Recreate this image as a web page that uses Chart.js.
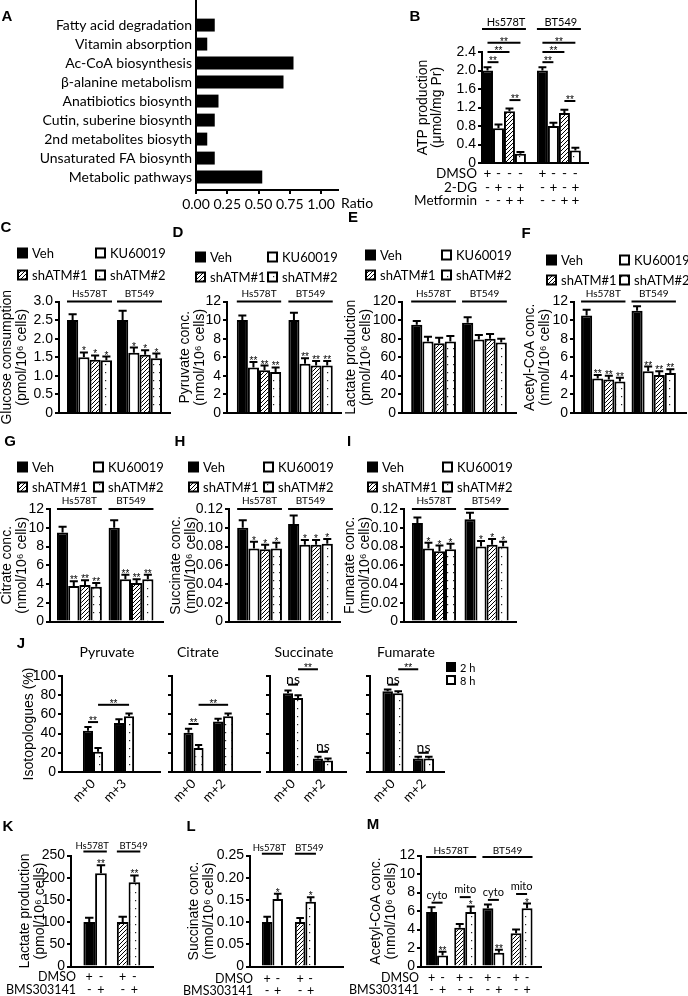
<!DOCTYPE html>
<html>
<head>
<meta charset="utf-8">
<title>ATM and metabolite panels</title>
<script src="https://cdn.jsdelivr.net/npm/chart.js@4.4.1/dist/chart.umd.min.js"></script>
<style>
  html, body { margin: 0; padding: 0; background: #fff; }
  #fig { position: relative; width: 688px; height: 996px; overflow: hidden; }
  #fig canvas { position: absolute; left: 0; top: 0; }
  .note { position: absolute; white-space: nowrap; color: #000; }
</style>
</head>
<body>
<div id="fig"></div>
<script>
// ---- data ----
const pathways = ['Fatty acid degradation', 'Vitamin absorption', 'Ac-CoA biosynthesis', 'β-alanine metabolism',
  'Anatibiotics biosynth', 'Cutin, suberine biosynth', '2nd metabolites biosyth', 'Unsaturated FA biosynth', 'Metabolic pathways'];
const pathwayRatio = [0.15, 0.09, 0.78, 0.70, 0.18, 0.15, 0.09, 0.15, 0.53];
const ratioTicks = [0, 0.25, 0.5, 0.75, 1.0];

const cells = ['Hs578T', 'BT549'];

// panel B: rows = treatment, cols = cell line
const atpTreat = ['DMSO', '2-DG', 'Metformin', '2-DG + Metformin'];
const atpMean = [[2.0, 2.0], [0.75, 0.80], [1.12, 1.08], [0.20, 0.27]];
const atpErr = [[0.07, 0.07], [0.08, 0.07], [0.06, 0.07], [0.04, 0.06]];
const atpDmso = ['+', '-', '-', '-'];
const atp2dg = ['-', '+', '-', '+'];
const atpMet = ['-', '-', '+', '+'];

// panels C-I: rows = ATM group, cols = cell line
const atmGroups = ['Veh', 'KU60019', 'shATM#1', 'shATM#2'];
const glucose = [[2.5, 2.5], [1.5, 1.62], [1.43, 1.57], [1.42, 1.47]];
const glucoseErr = [[0.16, 0.25], [0.13, 0.14], [0.12, 0.12], [0.10, 0.13]];
const pyruvate = [[10, 10], [4.9, 5.3], [4.6, 5.1], [4.4, 5.1]];
const pyruvateErr = [[0.5, 0.8], [0.6, 0.6], [0.5, 0.5], [0.5, 0.5]];
const lactate = [[95, 97], [77, 79], [75, 80], [77, 76]];
const lactateErr = [[4, 6], [5, 5], [6, 5], [6, 4]];
const acetylCoA = [[10.5, 11], [3.7, 4.5], [3.6, 4.1], [3.4, 4.3]];
const acetylCoAErr = [[0.6, 0.5], [0.4, 0.5], [0.4, 0.4], [0.4, 0.4]];
const citrate = [[9.5, 10], [3.8, 4.5], [3.9, 4.1], [3.7, 4.5]];
const citrateErr = [[0.6, 0.8], [0.5, 0.5], [0.5, 0.4], [0.4, 0.5]];
const succinate = [[0.100, 0.104], [0.078, 0.082], [0.077, 0.082], [0.078, 0.083]];
const succinateErr = [[0.008, 0.009], [0.007, 0.005], [0.005, 0.005], [0.006, 0.005]];
const fumarate = [[0.105, 0.109], [0.078, 0.080], [0.075, 0.082], [0.077, 0.080]];
const fumarateErr = [[0.006, 0.007], [0.006, 0.006], [0.006, 0.006], [0.006, 0.005]];

// panel J: rows = labelling time, cols = isotopologue
const isoMetabolites = ['Pyruvate', 'Citrate', 'Succinate', 'Fumarate'];
const isoTimes = ['2 h', '8 h'];
const isoPyr = ['m+0', 'm+3'];
const isoOther = ['m+0', 'm+2'];
const pyrIso = [[43, 51], [21, 58]];
const pyrIsoErr = [[4, 4], [4, 3]];
const citIso = [[41, 52.5], [25, 58]];
const citIsoErr = [[4, 3], [3, 3]];
const sucIso = [[82, 14], [77, 12]];
const sucIsoErr = [[3, 2], [3, 2]];
const fumIso = [[84, 14], [82, 14]];
const fumIsoErr = [[2, 2], [2, 2]];

// panels K-M: rows = treatment
const bmsTreat = ['DMSO', 'BMS303141'];
const bmsDmso = ['+', '-'];
const bmsDrug = ['-', '+'];
const bmsLactate = [[100, 100], [210, 190]];
const bmsLactateErr = [[10, 12], [18, 15]];
const bmsSuccinate = [[0.100, 0.100], [0.152, 0.146]];
const bmsSuccinateErr = [[0.012, 0.009], [0.012, 0.010]];
const fractions = ['Hs578T cyto', 'Hs578T mito', 'BT549 cyto', 'BT549 mito'];
const fractionNames = ['cyto', 'mito'];
const bmsAcetyl = [[5.9, 4.2, 6.3, 3.6], [1.2, 5.9, 1.5, 6.3]];
const bmsAcetylErr = [[0.5, 0.4, 0.4, 0.4], [0.4, 0.6, 0.3, 0.5]];

// ---- setup ----
const W = 688, H = 996;
const fig = document.getElementById('fig');
const sans = '"Liberation Sans", Arial, sans-serif';
const lato = 'Lato, "Open Sans", sans-serif';
Chart.defaults.color = '#000';
Chart.defaults.font.family = sans;
const tickFont = { family: sans, size: 14 };
const labelFont = { family: lato, size: 14 };

function makePattern(kind) {
  const c = document.createElement('canvas');
  const g = c.getContext('2d');
  if (kind === 'hatch') {
    c.width = c.height = 4;
    g.fillStyle = '#fff';
    g.fillRect(0, 0, 4, 4);
    g.strokeStyle = '#000';
    g.lineWidth = 1;
    g.beginPath();
    g.moveTo(0, 4); g.lineTo(4, 0);
    g.moveTo(-1, 1); g.lineTo(1, -1);
    g.moveTo(3, 5); g.lineTo(5, 3);
    g.stroke();
  } else {
    c.width = 6; c.height = 8;
    g.fillStyle = '#fff';
    g.fillRect(0, 0, 6, 8);
    g.fillStyle = '#222';
    g.fillRect(3, 4, 1.2, 1.2);
  }
  return g.createPattern(c, 'repeat');
}
const black = '#000', white = '#fff';
const hatch = makePattern('hatch');
const dots = makePattern('dots');
const fourFills = [black, white, hatch, dots];

// errors, stars, brackets, +/- rows and legends
const LINE_STYLE = {
  sig: { font: '10px ' + sans, dy: 2 },
  ns: { font: '14px ' + lato, dy: -1 },
  group: { font: '10px ' + lato, dy: -5 },
  sub: { font: '11px ' + lato, dy: -4 }
};
const extras = {
  id: 'extras',
  afterDraw(chart, args, opts) {
    const ctx = chart.ctx;
    const area = chart.chartArea;
    const vs = chart.scales.y;
    const bar = (d, i) => chart.getDatasetMeta(d).data[i];
    ctx.save();
    ctx.fillStyle = '#000';
    ctx.strokeStyle = '#000';
    ctx.lineWidth = 2;

    chart.data.datasets.forEach((ds, d) => {
      if (!ds.errors) return;
      chart.getDatasetMeta(d).data.forEach((el, i) => {
        const top = vs.getPixelForValue(ds.data[i].y + ds.errors[i]);
        const cap = el.width * 0.36;
        ctx.beginPath();
        ctx.moveTo(el.x, el.y); ctx.lineTo(el.x, top);
        ctx.moveTo(el.x - cap, top); ctx.lineTo(el.x + cap, top);
        ctx.stroke();
        const s = ds.stars && ds.stars[i];
        if (s) {
          ctx.font = LINE_STYLE.sig.font;
          ctx.textAlign = 'center';
          ctx.textBaseline = 'alphabetic';
          ctx.fillText(s, el.x, top + 2);
        }
      });
    });

    (opts.lines || []).forEach(l => {
      const kind = l.kind || 'sig';
      const st = LINE_STYLE[kind];
      const p = bar(l.from[0], l.from[1]), q = bar(l.to[0], l.to[1]);
      const edge = kind === 'group';
      const x1 = edge ? p.x - p.width / 2 : p.x;
      const x2 = edge ? q.x + q.width / 2 : q.x;
      const y = vs.getPixelForValue(l.v);
      ctx.lineWidth = 2;
      ctx.beginPath(); ctx.moveTo(x1, y); ctx.lineTo(x2, y); ctx.stroke();
      if (l.text) {
        ctx.font = l.font || st.font;
        ctx.textAlign = 'center';
        ctx.textBaseline = 'alphabetic';
        ctx.fillText(l.text, (x1 + x2) / 2 + (l.tx || 0), y + (l.dy !== undefined ? l.dy : st.dy));
      }
    });

    if (opts.rows) {
      ctx.font = opts.rows.font;
      ctx.textBaseline = 'middle';
      opts.rows.items.forEach(r => {
        const y = area.bottom + r.dy;
        ctx.textAlign = 'right';
        ctx.fillText(r.text, area.left + opts.rows.dx, y);
        ctx.textAlign = 'center';
        r.signs.forEach((s, d) => chart.getDatasetMeta(d).data.forEach(el => ctx.fillText(s, el.x, y)));
      });
    }

    if (opts.legend) {
      const L = opts.legend;
      ctx.font = L.font;
      ctx.textAlign = 'left';
      ctx.textBaseline = 'middle';
      chart.data.datasets.forEach((ds, d) => {
        const cx = L.x + (d % L.cols) * L.col;
        const cy = L.y + Math.floor(d / L.cols) * L.row;
        const s = L.box;
        ctx.fillStyle = '#000';
        ctx.fillRect(cx, cy - s / 2, s, s);
        ctx.fillStyle = ds.backgroundColor;
        ctx.fillRect(cx + 2, cy - s / 2 + 2, s - 4, s - 4);
        ctx.fillStyle = '#000';
        ctx.fillText(ds.label, cx + s + 4, cy + 1);
      });
    }
    ctx.restore();
  }
};

function newCanvas() {
  const c = document.createElement('canvas');
  c.width = W;
  c.height = H;
  fig.appendChild(c);
  return c;
}

function barSet(label, values, errors, fill, stars) {
  return {
    label,
    data: values.map((v, i) => ({ x: i, y: v })),
    errors, stars,
    backgroundColor: fill, borderColor: '#000', borderWidth: 2
  };
}

// every panel canvas covers the whole figure, padding puts the plot area in place
function panel(o) {
  const a = o.area, xH = o.xH || 20;
  const lh = o.titleLH || 15;
  o.datasets.forEach(ds => { ds.categoryPercentage = o.frac; ds.barPercentage = 1; });
  return new Chart(newCanvas(), {
    type: 'bar',
    data: { datasets: o.datasets },
    options: {
      responsive: false, animation: false, events: [],
      layout: { padding: { left: 0, top: a.t, right: W - a.r, bottom: H - a.b - xH } },
      plugins: { legend: { display: false }, tooltip: { enabled: false }, extras: o.extras || {} },
      scales: {
        x: {
          type: 'linear', min: o.xMin, max: o.xMax, offset: false,
          afterBuildTicks: s => { s.ticks = o.cats.map((c, i) => ({ value: i })); },
          afterFit: s => { s.height = xH; },
          grid: { drawOnChartArea: false, drawTicks: false },
          border: { color: '#000', width: 2, z: 1 },
          ticks: {
            display: !!o.xLabels, autoSkip: false, minRotation: 45, maxRotation: 45, padding: 4,
            font: { family: lato, size: 13 }, callback: v => o.cats[v]
          }
        },
        y: {
          min: 0, max: o.yMax,
          afterFit: s => { s.width = a.l; },
          ticks: {
            stepSize: o.yStep, autoSkip: false, padding: 2, font: tickFont,
            callback: v => o.yLabels === false ? '' : (v === 0 ? '0' : v.toFixed(o.yDec))
          },
          grid: { drawOnChartArea: false, tickLength: 4, color: '#000', lineWidth: 2 },
          border: { color: '#000', width: 2, z: 1 },
          title: {
            display: !!o.yTitle, text: o.yTitle, color: '#000',
            font: { family: sans, size: 14, lineHeight: lh + 'px' },
            padding: { top: (o.titleX || 0) - lh / 2, bottom: 0 }
          }
        }
      }
    },
    plugins: [extras]
  });
}

function atmPanel(o) {
  return panel(Object.assign({
    cats: cells, yDec: 0,
    datasets: atmGroups.map((g, k) =>
      barSet(g, o.mean[k], o.err[k], fourFills[k], k && o.star ? cells.map(() => o.star) : null)),
    extras: {
      legend: { x: o.leg[0], y: o.leg[1], col: o.leg[2], row: o.leg[3], cols: 2, box: 11, font: '13px ' + lato },
      lines: cells.map((c, i) => ({ kind: 'group', text: c, from: [0, i], to: [3, i], v: o.yMax }))
    }
  }, o));
}

// ---- A ----
new Chart(newCanvas(), {
  type: 'bar',
  data: {
    datasets: [{
      label: 'Ratio', data: pathwayRatio.map((v, i) => ({ x: v, y: i })),
      backgroundColor: '#000', borderWidth: 0, barPercentage: 0.68, categoryPercentage: 1
    }]
  },
  options: {
    indexAxis: 'y', responsive: false, animation: false, events: [],
    layout: { padding: { left: 0, top: 0, right: W - 338, bottom: H - 190 - 24 } },
    plugins: { legend: { display: false }, tooltip: { enabled: false } },
    scales: {
      y: {
        type: 'linear', min: -1.32, max: 8.68, reverse: true, offset: false,
        afterBuildTicks: s => { s.ticks = pathways.map((p, i) => ({ value: i })); },
        afterFit: s => { s.width = 196; s.paddingTop = 0; s.paddingBottom = 0; },
        ticks: { autoSkip: false, padding: 4, font: labelFont, callback: v => pathways[v] },
        grid: { drawOnChartArea: false, drawTicks: false },
        border: { color: '#000', width: 2, z: 1 }
      },
      x: {
        type: 'linear', min: 0, max: 1.136,
        afterBuildTicks: s => { s.ticks = ratioTicks.map(v => ({ value: v })); },
        afterFit: s => { s.height = 24; },
        ticks: { autoSkip: false, maxRotation: 0, padding: 2, font: labelFont, callback: v => v.toFixed(2) },
        grid: { drawOnChartArea: false, tickLength: 4, color: '#000', lineWidth: 2 },
        border: { color: '#000', width: 2, z: 1 }
      }
    }
  }
});

// ---- B ----
const atpLines = [];
cells.forEach((c, g) => {
  atpLines.push({ kind: 'group', text: c, from: [0, g], to: [3, g], v: 2.9, font: '11px ' + lato, dy: -3, tx: 2 });
  atpLines.push({ text: '**', from: [0, g], to: [3, g], v: 2.6 });
  atpLines.push({ text: '**', from: [0, g], to: [2, g], v: 2.4 });
  atpLines.push({ text: '**', from: [0, g], to: [1, g], v: 2.18 });
  atpLines.push({ text: '**', from: [2, g], to: [3, g], v: g ? 1.34 : 1.36 });
});
panel({
  area: { l: 482, t: 52, r: 588, b: 163 },
  cats: cells, xMin: -0.4, xMax: 1.53, frac: 0.8,
  yMax: 2.4, yStep: 0.4, yDec: 1,
  yTitle: ['ATP production', '(μmol/mg Pr)'], titleX: 423, titleLH: 14,
  datasets: atpTreat.map((t, k) => barSet(t, atpMean[k], atpErr[k], fourFills[k])),
  extras: {
    lines: atpLines,
    rows: {
      dx: -5, font: '13.5px ' + lato, items: [
        { text: 'DMSO', dy: 11, signs: atpDmso },
        { text: '2-DG', dy: 25, signs: atp2dg },
        { text: 'Metformin', dy: 38, signs: atpMet }
      ]
    }
  }
});

// ---- C-F ----
atmPanel({ area: { l: 59, t: 301.5, r: 170, b: 413 }, xMin: -0.61, xMax: 1.61, frac: 0.9,
  yMax: 3, yStep: 0.5, yDec: 1, yTitle: ['Glucose consumption', '(pmol/10⁶ cells)'], titleX: 7,
  mean: glucose, err: glucoseErr, star: '*', leg: [17, 253, 78, 22] });
atmPanel({ area: { l: 227, t: 301.5, r: 341, b: 413 }, xMin: -0.62, xMax: 1.59, frac: 0.86,
  yMax: 12, yStep: 2, yTitle: ['Pyruvate conc.', '(nmol/10⁶ cells)'], titleX: 185,
  mean: pyruvate, err: pyruvateErr, star: '**', leg: [195, 257, 72, 20] });
atmPanel({ area: { l: 402, t: 301.5, r: 516, b: 413 }, xMin: -0.62, xMax: 1.62, frac: 0.88,
  yMax: 120, yStep: 20, yTitle: ['Lactate production', '(pmol/10⁶ cells)'], titleX: 351,
  mean: lactate, err: lactateErr, star: null, leg: [365, 255, 76, 20] });
atmPanel({ area: { l: 574, t: 301.5, r: 686, b: 413 }, xMin: -0.58, xMax: 1.64, frac: 0.88,
  yMax: 12, yStep: 2, yTitle: ['Acetyl-CoA conc.', '(nmol/10⁶ cells)'], titleX: 530,
  mean: acetylCoA, err: acetylCoAErr, star: '**', leg: [546, 260, 73, 20] });

// ---- G-I ----
atmPanel({ area: { l: 50, t: 509, r: 163, b: 621.5 }, xMin: -0.57, xMax: 1.62, frac: 0.87,
  yMax: 12, yStep: 2, yTitle: ['Citrate conc.', '(nmol/10⁶ cells)'], titleX: 7,
  mean: citrate, err: citrateErr, star: '**', leg: [17, 467, 76, 20] });
atmPanel({ area: { l: 229, t: 509, r: 340, b: 621.5 }, xMin: -0.6, xMax: 1.58, frac: 0.88,
  yMax: 0.12, yStep: 0.02, yDec: 2, yTitle: ['Succinate conc.', '(nmol/10⁶ cells)'], titleX: 176,
  mean: succinate, err: succinateErr, star: '*', leg: [188, 467, 75, 20] });
atmPanel({ area: { l: 404, t: 509, r: 516, b: 621.5 }, xMin: -0.57, xMax: 1.56, frac: 0.84,
  yMax: 0.12, yStep: 0.02, yDec: 2, yTitle: ['Fumarate conc.', '(nmol/10⁶ cells)'], titleX: 350,
  mean: fumarate, err: fumarateErr, star: '*', leg: [367, 467, 75, 20] });

// ---- J ----
const isoFills = [black, dots];
function isoPanel(o) {
  return panel({
    area: { l: o.l, t: 676, r: o.r, b: 772 }, cats: o.cats, xLabels: true, xH: 34,
    xMin: o.xMin, xMax: o.xMax, frac: o.frac,
    yMax: 100, yStep: 20, yDec: 0, yLabels: o.yLabels, yTitle: o.yTitle, titleX: 29,
    datasets: isoTimes.map((t, k) => barSet(t, o.mean[k], o.err[k], isoFills[k])),
    extras: { lines: o.lines, legend: o.legend }
  });
}
isoPanel({ l: 62, r: 160, xMin: -1.0, xMax: 2.16, frac: 0.65, cats: isoPyr, mean: pyrIso, err: pyrIsoErr,
  yTitle: 'Isotopologues (%)',
  lines: [{ text: '**', from: [0, 0], to: [1, 0], v: 52 }, { text: '**', from: [1, 0], to: [1, 1], v: 70 }] });
isoPanel({ l: 172, r: 260, xMin: -0.73, xMax: 2.25, frac: 0.68, cats: isoOther, mean: citIso, err: citIsoErr,
  yLabels: false,
  lines: [{ text: '**', from: [0, 0], to: [1, 0], v: 50 }, { text: '**', from: [1, 0], to: [1, 1], v: 70 }] });
isoPanel({ l: 270, r: 346, xMin: -0.77, xMax: 1.77, frac: 0.67, cats: isoOther, mean: sucIso, err: sucIsoErr,
  yLabels: false,
  lines: [{ kind: 'ns', text: 'ns', from: [0, 0], to: [1, 0], v: 91 },
    { text: '**', from: [1, 0], to: [0, 1], v: 107 },
    { kind: 'ns', text: 'ns', from: [0, 1], to: [1, 1], v: 21 }] });
isoPanel({ l: 370, r: 444, xMin: -0.75, xMax: 1.67, frac: 0.69, cats: isoOther, mean: fumIso, err: fumIsoErr,
  yLabels: false,
  lines: [{ kind: 'ns', text: 'ns', from: [0, 0], to: [1, 0], v: 91 },
    { text: '**', from: [1, 0], to: [0, 1], v: 107 },
    { kind: 'ns', text: 'ns', from: [0, 1], to: [1, 1], v: 20 }],
  legend: { x: 446, y: 667, col: 0, row: 13, cols: 1, box: 10, font: '11px ' + lato } });

// ---- K-M ----
const bmsFills = [[black, hatch], [white, dots]];
const bmsRows = (dx, dy1, dy2) => ({
  dx, font: '12.5px ' + lato, items: [
    { text: bmsTreat[0], dy: dy1, signs: bmsDmso },
    { text: bmsTreat[1], dy: dy2, signs: bmsDrug }
  ]
});
const cellLines = (v, shifts) => cells.map((c, i) =>
  ({ kind: 'group', text: c, from: [0, i], to: [1, i], v, dy: -3, tx: shifts[i], font: '9.5px ' + lato }));

panel({
  area: { l: 71, t: 855.5, r: 153, b: 966.5 }, cats: cells, xMin: -0.72, xMax: 1.73, frac: 0.7,
  yMax: 250, yStep: 50, yDec: 0, yTitle: ['Lactate production', '(pmol/10⁶ cells)'], titleX: 25,
  datasets: bmsTreat.map((t, k) => barSet(t, bmsLactate[k], bmsLactateErr[k], bmsFills[k], k ? ['**', '**'] : null)),
  extras: { lines: cellLines(259, [-3, 5]), rows: bmsRows(5, 10.5, 23.5) }
});
panel({
  area: { l: 250, t: 855.5, r: 343, b: 966.5 }, cats: cells, xMin: -0.68, xMax: 2.14, frac: 0.64,
  yMax: 0.25, yStep: 0.05, yDec: 2, yTitle: ['Succinate conc.', '(nmol/10⁶ cells)'], titleX: 194,
  datasets: bmsTreat.map((t, k) => barSet(t, bmsSuccinate[k], bmsSuccinateErr[k], bmsFills[k], k ? ['*', '*'] : null)),
  extras: { lines: cellLines(0.254, [-3, 4]), rows: bmsRows(3, 12, 24.5) }
});
const fracFills = [[black, hatch, black, hatch], [white, dots, white, dots]];
panel({
  area: { l: 421, t: 855.5, r: 541, b: 966.5 }, cats: fractions, xMin: -0.57, xMax: 3.69, frac: 0.78,
  yMax: 12, yStep: 2, yDec: 0, yTitle: ['Acetyl-CoA conc.', '(nmol/10⁶ cells)'], titleX: 376,
  datasets: bmsTreat.map((t, k) => barSet(t, bmsAcetyl[k], bmsAcetylErr[k], fracFills[k], k ? ['**', '*', '**', '*'] : null)),
  extras: {
    lines: [
      { kind: 'group', text: cells[0], from: [0, 0], to: [1, 1], v: 11.84, dy: -3 },
      { kind: 'group', text: cells[1], from: [0, 2], to: [1, 3], v: 11.84, dy: -3 },
      { kind: 'sub', text: fractionNames[0], from: [0, 0], to: [1, 0], v: 6.9 },
      { kind: 'sub', text: fractionNames[1], from: [0, 1], to: [1, 1], v: 7.5 },
      { kind: 'sub', text: fractionNames[0], from: [0, 2], to: [1, 2], v: 7.2 },
      { kind: 'sub', text: fractionNames[1], from: [0, 3], to: [1, 3], v: 7.84 }
    ],
    rows: bmsRows(-2, 11.5, 23.5)
  }
});

// ---- plain text: panel letters, J titles, axis unit ----
function note(text, x, y, font, align) {
  const el = document.createElement('div');
  el.className = 'note';
  el.textContent = text;
  el.style.font = font;
  el.style.lineHeight = '1';
  el.style.left = x + 'px';
  el.style.top = y + 'px';
  el.style.transform = 'translate(' + (align === 'center' ? '-50%' : '0') + ', -50%)';
  fig.appendChild(el);
}
const letters = [['A', 7, 15], ['B', 415, 15], ['C', 6, 226], ['D', 178, 231], ['E', 353, 216], ['F', 526, 232],
  ['G', 10, 440], ['H', 180, 440], ['I', 349, 440], ['J', 21, 642], ['K', 8, 825], ['L', 191, 825], ['M', 373, 823]];
letters.forEach(([t, x, y]) => note(t, x, y, 'bold 15px ' + sans, 'center'));
const isoTitleX = [107, 198, 304, 406];
isoMetabolites.forEach((m, i) => note(m, isoTitleX[i], 652, '14px ' + lato, 'center'));
note('Ratio', 341, 203, '14px ' + lato, 'left');
</script>
</body>
</html>
